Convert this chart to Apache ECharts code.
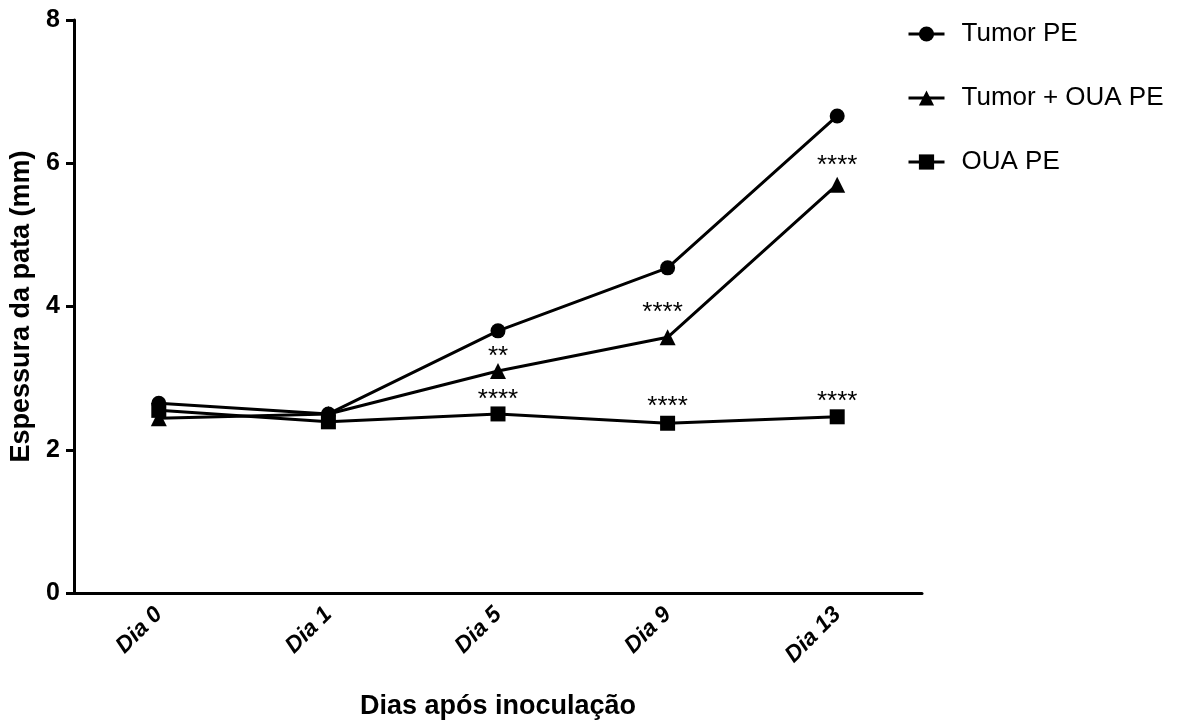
<!DOCTYPE html>
<html>
<head>
<meta charset="utf-8">
<script src="https://cdn.jsdelivr.net/npm/echarts@6/dist/echarts.min.js"></script>
<style>html,body{margin:0;padding:0;background:#fff;}#chart{width:1180px;height:722px;}</style>
</head>
<body>
<div id="chart"></div>
<script>
const categories = ['Dia 0', 'Dia 1', 'Dia 5', 'Dia 9', 'Dia 13'];
const tumorPE = [2.65, 2.50, 3.66, 4.54, 6.66];
const tumorOuaPE = [2.44, 2.50, 3.10, 3.57, 5.70];
const ouaPE = [2.55, 2.39, 2.50, 2.37, 2.46];
const tumorOuaStars = ['', '', '**', '****', '****'];
const ouaStars = ['', '', '****', '****', '****'];
const seriesNames = ['Tumor PE', 'Tumor + OUA PE', 'OUA PE'];

const FONT = '"Liberation Sans", Arial, sans-serif';
const chart = echarts.init(document.getElementById('chart'), null, {renderer: 'canvas'});

function starData(values, stars, dists, xoffs) {
  return values.map((v, i) => stars[i] ? {
    value: v,
    label: {show: true, formatter: stars[i], position: 'top', distance: dists[i],
            offset: [xoffs[i], 0], color: '#000', fontSize: 26, fontFamily: FONT}
  } : v);
}

const option = {
  backgroundColor: '#fff',
  animation: false,
  textStyle: {fontFamily: FONT},
  grid: {left: 74, right: 258, top: 20, bottom: 129, containLabel: false, outerBoundsMode: 'none'},
  legend: {
    orient: 'vertical', left: 902, top: 16, itemGap: 38,
    itemWidth: 36, itemHeight: 19,
    lineStyle: {width: 3, color: '#000'},
    itemStyle: {color: '#000'},
    textStyle: {fontSize: 26, color: '#000', fontFamily: FONT, padding: [0, 0, 0, 12]},
    data: seriesNames
  },
  xAxis: {
    type: 'category', data: categories, boundaryGap: true,
    name: 'Dias após inoculação', nameLocation: 'middle', nameGap: 100,
    nameTextStyle: {fontSize: 27, fontWeight: 'bold', color: '#000', fontFamily: FONT},
    axisLine: {lineStyle: {color: '#000', width: 3}},
    axisTick: {alignWithLabel: true, length: 8, lineStyle: {color: '#000', width: 3}},
    axisLabel: {rotate: 45, fontSize: 23, fontWeight: 'bold', fontStyle: 'italic', color: '#000', margin: 18, fontFamily: FONT},
    splitLine: {show: false}
  },
  yAxis: {
    type: 'value', min: 0, max: 8, interval: 2,
    name: 'Espessura da pata (mm)', nameLocation: 'middle', nameGap: 28, nameRotate: 90,
    nameTextStyle: {fontSize: 27, fontWeight: 'bold', color: '#000', fontFamily: FONT},
    axisLine: {show: true, lineStyle: {color: '#000', width: 3}},
    axisTick: {show: true, length: 8, lineStyle: {color: '#000', width: 3}},
    axisLabel: {fontSize: 25, fontWeight: 'bold', color: '#000', margin: 14, fontFamily: FONT},
    splitLine: {show: false}
  },
  series: [
    {name: seriesNames[0], type: 'line', data: tumorPE, symbol: 'circle', symbolSize: 15,
     lineStyle: {color: '#000', width: 3}, itemStyle: {color: '#000'}, z: 3},
    {name: seriesNames[1], type: 'line', data: starData(tumorOuaPE, tumorOuaStars, [0, 0, -7, 3, -2], [0, 0, 0, -5, 0]),
     symbol: 'triangle', symbolSize: 16,
     lineStyle: {color: '#000', width: 3}, itemStyle: {color: '#000'}, z: 3},
    {name: seriesNames[2], type: 'line', data: starData(ouaPE, ouaStars, [0, 0, -6, -4, -6], [0, 0, 0, 0, 0]),
     symbol: 'rect', symbolSize: 15,
     lineStyle: {color: '#000', width: 3}, itemStyle: {color: '#000'}, z: 3}
  ]
};

chart.setOption(option);
</script>
</body>
</html>
